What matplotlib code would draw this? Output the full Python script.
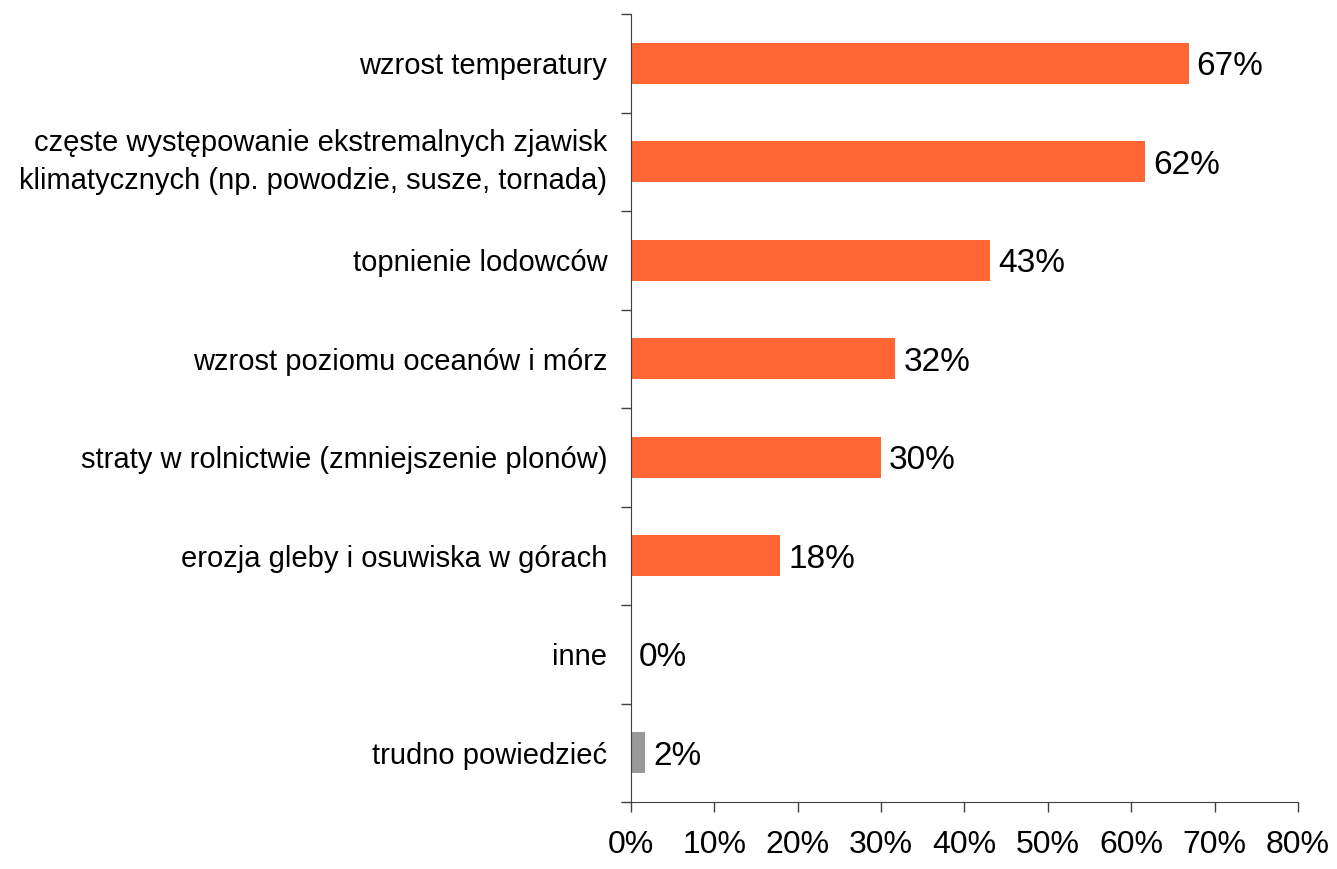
import numpy as np
import matplotlib
matplotlib.use("Agg")
import matplotlib.pyplot as plt
from matplotlib.ticker import MultipleLocator, FuncFormatter

plt.rcParams['font.family'] = ['Liberation Sans', 'DejaVu Sans']

# Data (top to bottom)
categories = [
    "wzrost temperatury",
    "częste występowanie ekstremalnych zjawisk\nklimatycznych (np. powodzie, susze, tornada)",
    "topnienie lodowców",
    "wzrost poziomu oceanów i mórz",
    "straty w rolnictwie (zmniejszenie plonów)",
    "erozja gleby i osuwiska w górach",
    "inne",
    "trudno powiedzieć",
]
values = [66.9, 61.7, 43.1, 31.7, 30.0, 17.9, 0.0, 1.7]
labels = ["67%", "62%", "43%", "32%", "30%", "18%", "0%", "2%"]
bar_colors = ["#FF6633"] * 7 + ["#999999"]

fig = plt.figure(figsize=(13.37, 8.69), dpi=100)
ax = fig.add_axes([631 / 1337, 1 - 802 / 869, (1298 - 631) / 1337, (802 - 14) / 869])

n = len(categories)
ypos = np.arange(n)
ax.barh(ypos, values, height=0.42, color=bar_colors, zorder=2)

for y, v, lab in zip(ypos, values, labels):
    ax.text(v + 0.95, y, lab, va='center_baseline', ha='left', fontsize=24)

ax.set_xlim(0, 80)
ax.set_ylim(n - 0.5, -0.5)

ax.xaxis.set_major_locator(MultipleLocator(10))
ax.xaxis.set_major_formatter(FuncFormatter(lambda x, p: f"{x:.0f}%"))
ax.tick_params(axis='x', labelsize=23, length=7, width=1, pad=13, color='#404040')

# boundaries get the tick marks, centers get the labels
ax.set_yticks(np.arange(n + 1) - 0.5)
ax.set_yticklabels([])
ax.set_yticks(ypos, minor=True)
ticklabs = ax.set_yticklabels(categories, minor=True, fontsize=21, linespacing=1.45)
for t in ticklabs:
    if "\n" in t.get_text():
        t.set_va('center')
ax.tick_params(axis='y', which='major', length=7, width=1, color='#404040')
ax.tick_params(axis='y', which='minor', length=0, pad=17)

for side in ['top', 'right']:
    ax.spines[side].set_visible(False)
for side in ['left', 'bottom']:
    ax.spines[side].set_color('#404040')

fig.savefig("out.png", dpi=100)
